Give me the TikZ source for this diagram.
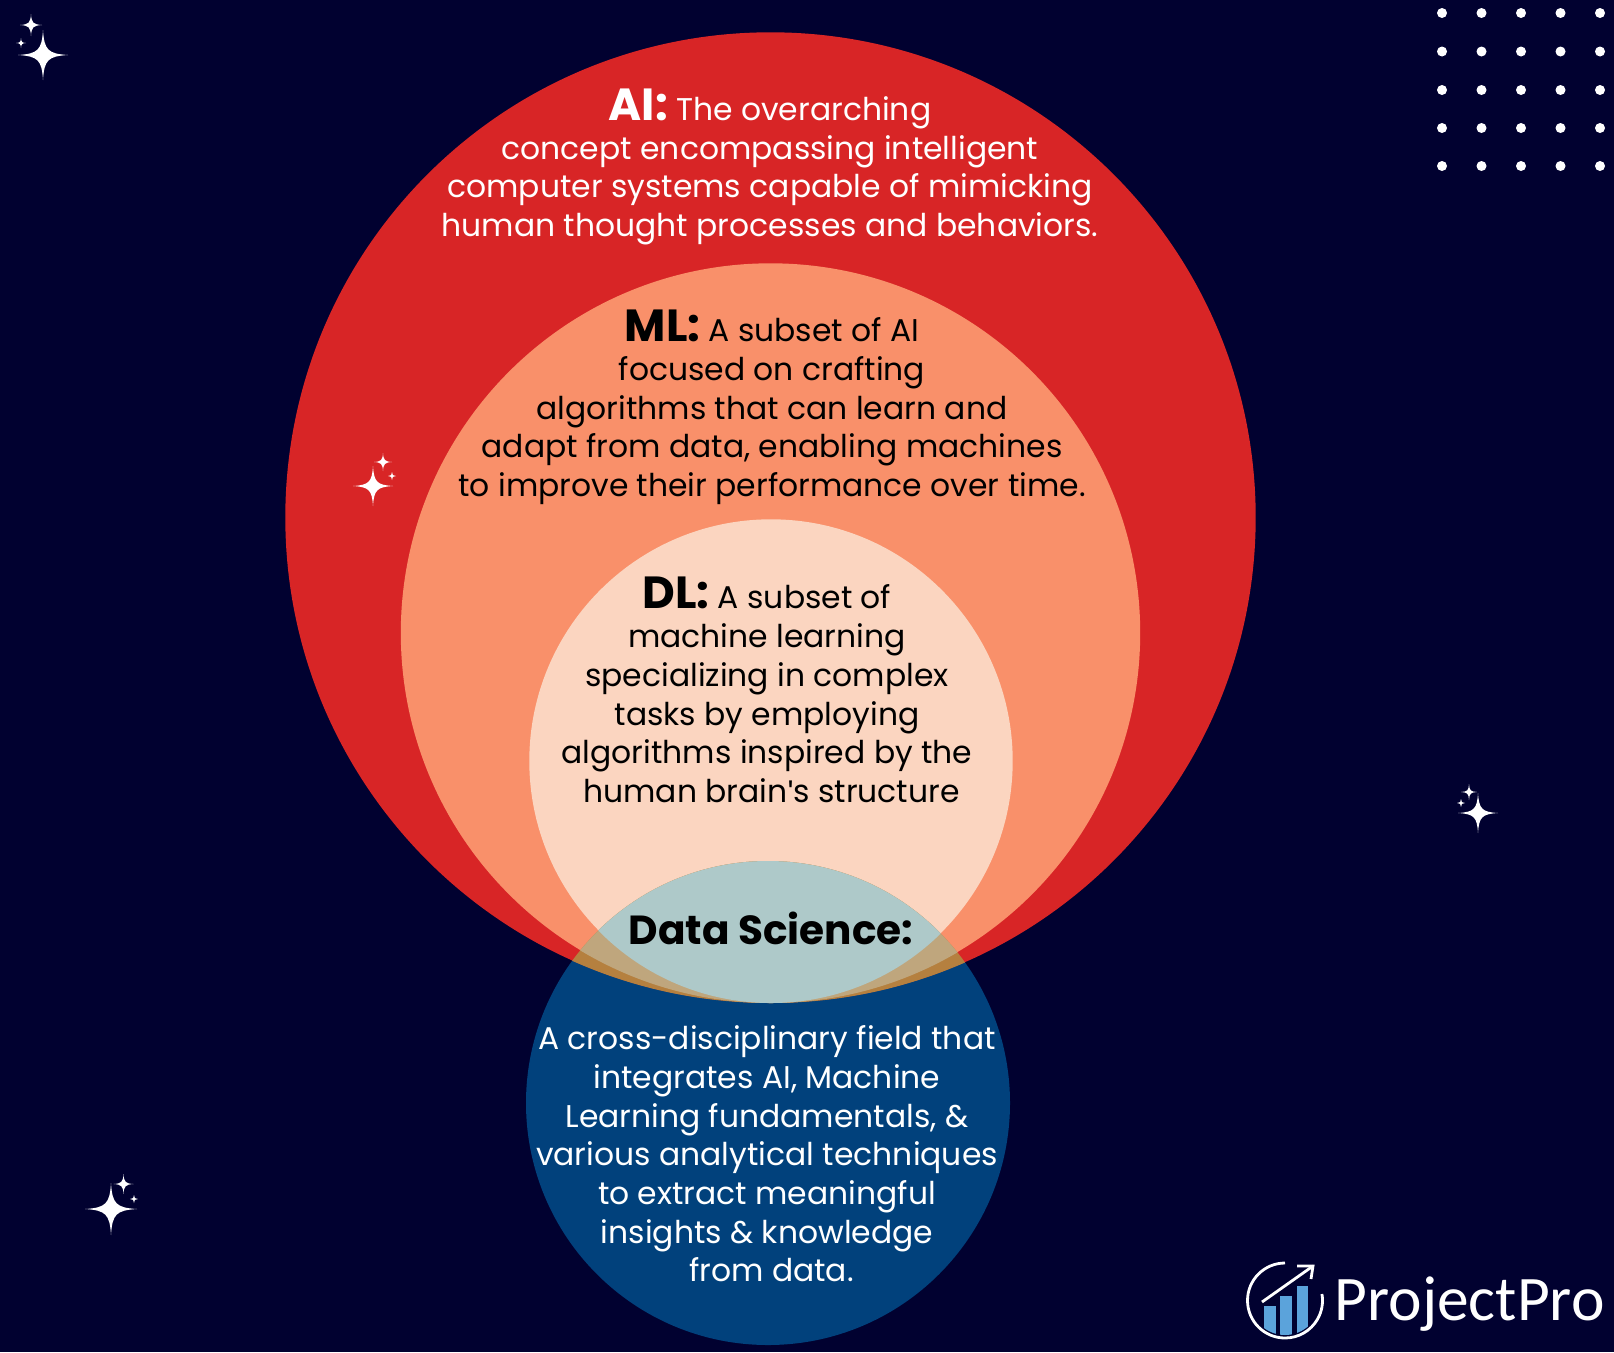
\documentclass[tikz,border=0pt]{standalone}
\usepackage{fontspec}
\setmainfont[Ligatures=ResetAll]{Poppins}
\newfontfamily\logofont{Carlito}
\newfontfamily\tickfont{Liberation Sans}
\usepackage{color}
\definecolor{night}{RGB}{1,1,48}
\definecolor{aired}{RGB}{216,37,38}
\definecolor{mlorange}{RGB}{249,144,106}
\definecolor{dlpeach}{RGB}{251,213,192}
\definecolor{dsblue}{RGB}{1,65,124}
\definecolor{aimix}{RGB}{181,128,63}
\definecolor{mlmix}{RGB}{191,166,125}
\definecolor{dlmix}{RGB}{174,201,201}
\definecolor{barblue}{RGB}{91,163,219}
\tikzstyle{disc} = [circle, inner sep=0pt, outer sep=0pt]
\tikzstyle{blurb} = [align=center, inner sep=0pt, font=\fontsize{31.4}{38.7}\selectfont]
\tikzstyle{spot} = [circle, fill=white, minimum size=10pt, inner sep=0pt]
\newcommand{\headword}[1]{{\fontsize{45}{38.7}\selectfont\bfseries #1}}
\newcommand{\sparkle}[3]{\fill[white, shift={(#1,#2)}, scale=#3] (0,1) .. controls (0.05,0.2) and (0.2,0.05) .. (1,0) .. controls (0.2,-0.05) and (0.05,-0.2) .. (0,-1) .. controls (-0.05,-0.2) and (-0.2,-0.05) .. (-1,0) .. controls (-0.2,0.05) and (-0.05,0.2) .. (0,1) -- cycle;}
\begin{document}
\begin{tikzpicture}[x=1pt, y=-1pt]
  \useasboundingbox (0,0) rectangle (1614,1352);
  \fill[night] (0,0) rectangle (1614,1352);

  % circles
  \node [disc, fill=dsblue, minimum size=484pt] (ds) at (768,1103) {};
  \node [disc, fill=aired, minimum size=970.4pt] (ai) at (770.5,517.5) {};
  \node [disc, fill=mlorange, minimum size=739.4pt] (ml) at (770.5,633) {};
  \node [disc, fill=dlpeach, minimum size=483.4pt] (dl) at (771,761) {};

  % overlap with data science
  \begin{scope}
    \clip (768,1103) circle (242);
    \fill[aimix] (770.5,517.5) circle (485.5);
    \fill[mlmix] (770.5,633) circle (370);
    \fill[dlmix] (771,761) circle (242);
  \end{scope}

  % labels
  \node [blurb, white] (aitext) at (770,167) {\headword{AI:} The overarching\\concept encompassing intelligent\\computer systems capable of mimicking\\human thought processes and behaviors.};
  \node [blurb, black] (mltext) at (772,407.5) {\headword{ML:} A subset of AI\\focused on crafting\\algorithms that can learn and\\adapt from data, enabling machines\\to improve their performance over time.};
  \node [blurb, black] (dltext) at (767,690) {\headword{DL:} A subset of\\machine learning\\specializing in complex\\tasks by employing\\algorithms inspired by the\\\hspace*{9pt}human brain{\tickfont '}s structure};
  \node [black, font=\fontsize{40.6}{40}\selectfont\bfseries, inner sep=0pt] (dstitle) at (771,928) {Data Science:};
  \node [blurb, white] (dstext) at (767,1154) {A cross-disciplinary field that\\integrates AI, Machine\\Learning fundamentals, \&\\various analytical techniques\\to extract meaningful\\insights \& knowledge\\\hspace*{9pt}from data.};

  % sparkles
  \sparkle{43}{55}{25}
  \sparkle{31}{25}{11}
  \sparkle{21}{43}{5}
  \sparkle{373}{486}{20}
  \sparkle{383}{462}{9}
  \sparkle{392}{476}{4}
  \sparkle{1478}{813}{20}
  \sparkle{1469}{792}{8}
  \sparkle{1461}{803}{4}
  \sparkle{111}{1209}{26}
  \sparkle{123.5}{1184}{10}
  \sparkle{134}{1199}{4}

  % dots
  \foreach \dotx in {1442,1481.5,1521,1560.5,1600}
    \foreach \doty in {13,51.5,90,128,166}
      \node [spot] at (\dotx,\doty) {};

  % logo
  \begin{scope}
    \clip (1285,1300) circle (35);
    \fill[barblue] (1263.5,1306) rectangle (1275.5,1340);
    \fill[barblue] (1280,1296) rectangle (1292,1340);
    \fill[barblue] (1297,1286) rectangle (1308,1340);
  \end{scope}
  \draw[white, line width=2.8pt] (1285,1300.5) ++(-90:37.5) arc[start angle=-90, end angle=-370, radius=37.5];
  \coordinate (trendfoot) at (1262,1302);
  \coordinate (trendtip) at (1313,1266);
  \draw[white, line width=2.8pt] (trendfoot) -- (trendtip);
  \draw[white, line width=2.8pt] (1297,1266) -- (trendtip) -- (1311,1279);
  \node [white, anchor=base west, inner sep=0pt, font=\logofont\fontsize{63.5}{63.5}\selectfont] (brand) at (1334.5,1320) {ProjectPro};
\end{tikzpicture}
\end{document}
